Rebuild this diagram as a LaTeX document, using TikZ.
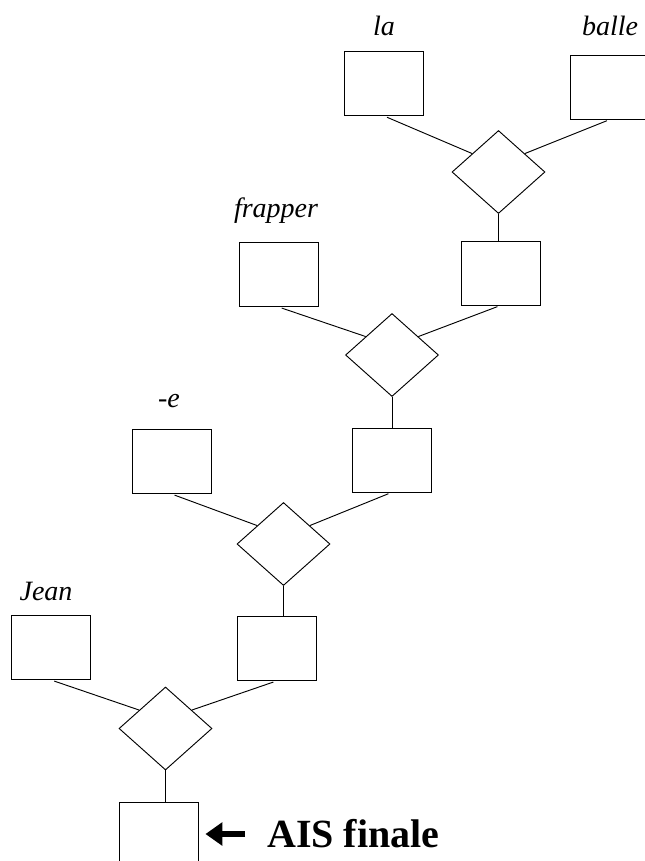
\documentclass[tikz,border=0pt]{standalone}
\usepackage{fontspec}
\setmainfont{Liberation Serif}
\usetikzlibrary{shapes.geometric,arrows.meta}
\begin{document}
\begin{tikzpicture}[x=0.75pt,y=-0.75pt,
  box/.style={draw, line width=0.7pt, minimum width=59.25pt, minimum height=48pt, inner sep=0pt},
  dia/.style={draw, diamond, line width=0.7pt, minimum width=69.75pt, minimum height=62.25pt, inner sep=0pt},
  conn/.style={line width=0.7pt},
  lbl/.style={anchor=base, inner sep=0pt, font=\itshape\fontsize{21}{25}\selectfont},
  bigarrow/.style={line width=4.5pt, -{Triangle[length=12.75pt,width=17pt]}}]
\path[use as bounding box, clip] (0,0) rectangle (645,861);
\fill[white] (0,0) rectangle (645,861);
% level 1
\node[box] (la) at (384,83.5) {};
\node[box] (balle) at (610,87) {};
\node[dia] (d1) at (498.5,172) {};
\node[box] (r1) at (500.5,273) {};
% level 2
\node[box] (frapper) at (278.5,274.5) {};
\node[dia] (d2) at (392,355) {};
\node[box] (r2) at (391.5,460) {};
% level 3
\node[box] (e) at (171.5,461.5) {};
\node[dia] (d3) at (283.5,544) {};
\node[box] (r3) at (276.5,648.5) {};
% level 4
\node[box] (jean) at (51,647.5) {};
\node[dia] (d4) at (165.5,728.5) {};
\node[box, minimum height=58.5pt] (final) at (158.5,841) {};
% labels
\node[lbl] (lla) at (384,35) {la};
\node[lbl] (lballe) at (610,35) {balle};
\node[lbl] (lfrapper) at (276,217) {frapper};
\node[lbl] (le) at (169,407) {-e};
\node[lbl] (ljean) at (46,600) {Jean};
% connectors
\draw[conn, shorten <=2.5pt] (la.south) -- (d1.145);
\draw[conn, shorten <=2.5pt] (balle.south) -- (d1.35);
\draw[conn] (d1.south) -- (d1.south |- r1.north);
\draw[conn, shorten <=2.5pt] (frapper.south) -- (d2.145);
\draw[conn, shorten <=2.5pt] (r1.south) -- (d2.35);
\draw[conn] (d2.south) -- (d2.south |- r2.north);
\draw[conn, shorten <=2.5pt] (e.south) -- (d3.145);
\draw[conn, shorten <=2.5pt] (r2.south) -- (d3.35);
\draw[conn] (d3.south) -- (d3.south |- r3.north);
\draw[conn, shorten <=2.5pt] (jean.south) -- (d4.145);
\draw[conn, shorten <=2.5pt] (r3.south) -- (d4.35);
\draw[conn] (d4.south) -- (d4.south |- final.north);
% final label and arrow
\node[anchor=base west, inner sep=0pt, font=\bfseries\fontsize{30}{36}\selectfont] (ais) at (267,847) {AIS finale};
\coordinate (arrs) at (245,834);
\draw[bigarrow, shorten >=5.25pt] (arrs) -- (final.east |- arrs);
\end{tikzpicture}
\end{document}
